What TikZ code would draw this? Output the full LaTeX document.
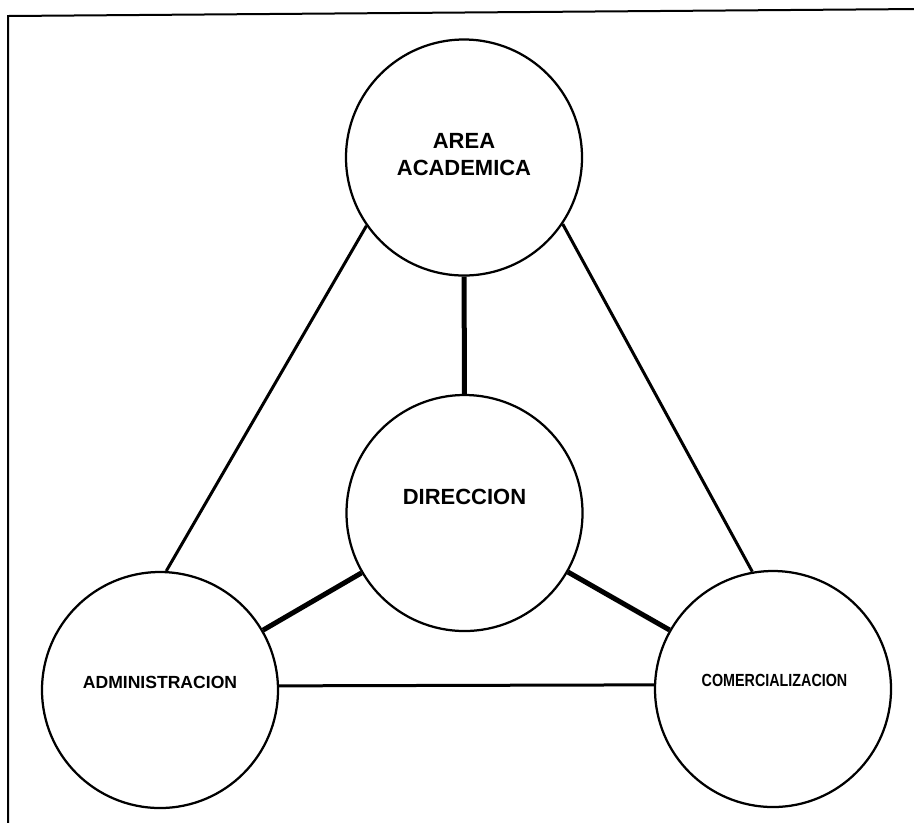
\documentclass[tikz,border=0pt]{standalone}
\usepackage{fontspec}
\setmainfont{Liberation Sans}
\usepackage{graphicx}
\usepackage{tikz}
\usetikzlibrary{positioning}

\begin{document}
\begin{tikzpicture}[unit/.style={draw=black,
        circle,
        line width=0.045cm,
        minimum size=4.72cm,
        inner sep=0pt},
        thinline/.style={line width=0.06cm},
        thickline/.style={line width=0.1cm}]
        \useasboundingbox (0,0) rectangle (18.28,-16.44);
        \draw[line width=0.04cm] (18.4,-0.18) -- (0.16,-0.32) -- (0.16,-16.8);
        \node[unit] (aca) at (9.28,-3.15) {};
        \node[unit] (dir) at (9.29,-10.26) {};
        \node[unit] (adm) at (3.20,-13.80) {};
        \node[unit] (com) at (15.46,-13.78) {};
        \draw[thickline] (aca) -- (dir);
        \draw[thickline] (dir) -- (adm);
        \draw[thickline] (dir) -- (com);
        \draw[thinline] (aca.215) -- (adm.87);
        \draw[thinline] (aca.326) -- (com.100);
        \draw[thinline] (adm.2) -- (com.178);
        \begin{scope}[every node/.style={font=\bfseries\fontsize{12.5}{15}\selectfont, align=center}]
            \node (acaText) at ([yshift=0.06cm]aca.center) {AREA\\ACADEMICA};
            \node (dirText) at ([yshift=0.32cm]dir.center) {DIRECCION};
        \end{scope}
        \node[font=\bfseries\fontsize{10}{12}\selectfont] (admText) at ([yshift=0.16cm]adm.center) {ADMINISTRACION};
        \node[font=\bfseries\fontsize{10}{12}\selectfont] (comText) at ([xshift=0.03cm, yshift=0.18cm]com.center) {\scalebox{0.815}[1]{COMERCIALIZACION}};
    \end{tikzpicture}
\end{document}
